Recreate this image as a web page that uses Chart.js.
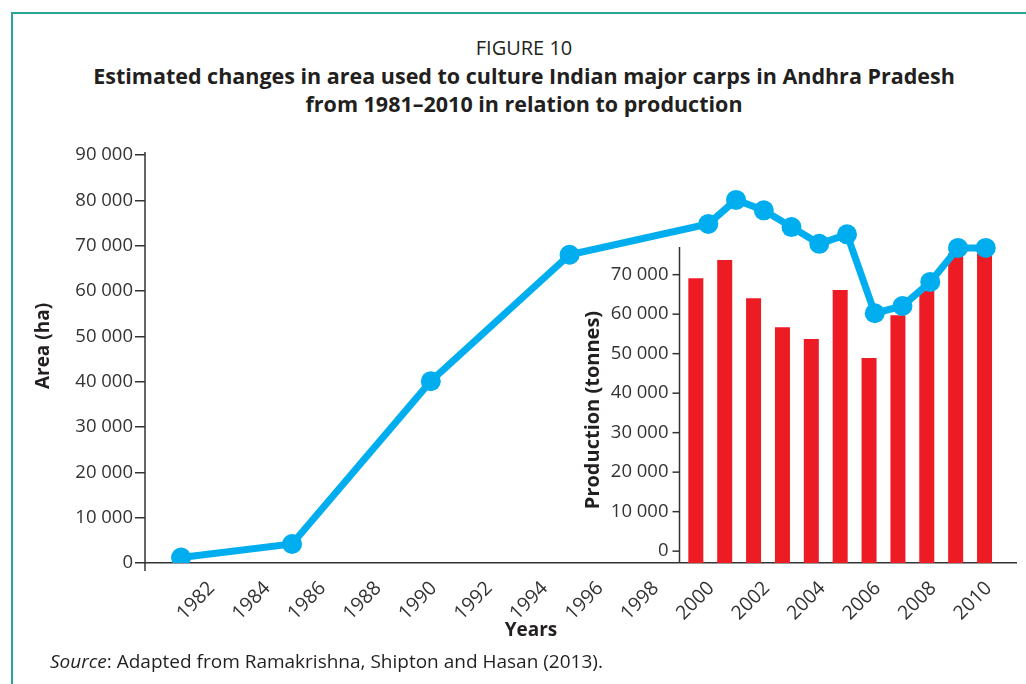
<!DOCTYPE html>
<html>
<head>
<meta charset="utf-8">
<title>Figure 10</title>
<script src="https://cdn.jsdelivr.net/npm/chart.js@4.4.0/dist/chart.umd.min.js"></script>
<style>
  body { margin: 0; background: #fff; font-family: "Open Sans", sans-serif; color: #231f20; }
  #page { position: relative; width: 1026px; height: 684px; overflow: hidden; }
  #frame { position: absolute; left: 11px; top: 12px; width: 1030px; height: 700px;
           border-top: 2px solid #2aa598; border-left: 2px solid #2aa598; }
  #chart-box { position: absolute; left: 0; top: 0; width: 1026px; height: 684px; }
  #heading { position: absolute; left: 0; top: 34px; width: 1048px; text-align: center; line-height: 28px; }
  #heading .fig { font-size: 20px; }
  #heading .name { font-size: 21.5px; font-weight: bold; }
  #years { position: absolute; left: 481px; top: 616px; width: 100px; text-align: center; font-size: 19px; font-weight: bold; }
  #source { position: absolute; left: 50px; top: 648px; font-size: 19px; white-space: nowrap; }
</style>
</head>
<body>
<div id="page">
  <div id="frame"></div>
  <div id="heading">
    <div class="fig">FIGURE 10</div>
    <div class="name">Estimated changes in area used to culture Indian major carps in Andhra Pradesh</div>
    <div class="name">from 1981–2010 in relation to production</div>
  </div>
  <div id="chart-box"><canvas id="chart"></canvas></div>
  <div id="years">Years</div>
  <div id="source"><i>Source</i>: Adapted from Ramakrishna, Shipton and Hasan (2013).</div>
</div>

<script>
// area under culture (ha), line
const areaYears = [1981, 1985, 1990, 1995, 2000, 2001, 2002, 2003, 2004, 2005, 2006, 2007, 2008, 2009, 2010]
const areaHa = [1200, 4200, 40100, 68000, 74800, 80100, 77800, 74100, 70400, 72500, 55100, 56700, 62000, 69500, 69500]

// production (tonnes), bars
const prodYears = [2000, 2001, 2002, 2003, 2004, 2005, 2006, 2007, 2008, 2009, 2010]
const prodTonnes = [69100, 73700, 64000, 56700, 53700, 66100, 48900, 59700, 66300, 75400, 75400]

// ticks
const yearTicks = [1982, 1984, 1986, 1988, 1990, 1992, 1994, 1996, 1998, 2000, 2002, 2004, 2006, 2008, 2010]
const areaTicks = [0, 10000, 20000, 30000, 40000, 50000, 60000, 70000, 80000, 90000]
const prodTicks = [0, 10000, 20000, 30000, 40000, 50000, 60000, 70000]

const prodMin = -3000
const prodAxisTop = 77000
const prodAxisYear = 1999.4

const axisColor = '#333'
const tickFont = '18.5px "Open Sans"'

const fmt = v => v.toLocaleString('en-US').replace(/,/g, ' ')

// the small production axis sits inside the plot, so draw it by hand
const innerAxis = {
    id: 'innerAxis',
    beforeDatasetsDraw(chart) {
        const {ctx, chartArea} = chart
        const xb = chart.scales.xb
        const yp = chart.scales.yp
        const ax = Math.round(xb.getPixelForValue(prodAxisYear)) + 0.5
        const top = yp.getPixelForValue(prodAxisTop)

        ctx.save()
        ctx.strokeStyle = axisColor
        ctx.lineWidth = 1.5

        // left axis runs a little past the x axis
        ctx.beginPath()
        ctx.moveTo(chartArea.left, chartArea.top - 3)
        ctx.lineTo(chartArea.left, chartArea.bottom + 8)
        ctx.stroke()

        ctx.beginPath()
        ctx.moveTo(ax, chartArea.bottom)
        ctx.lineTo(ax, top)
        ctx.stroke()

        ctx.fillStyle = axisColor
        ctx.font = tickFont
        ctx.textAlign = 'right'
        ctx.textBaseline = 'middle'
        prodTicks.forEach(v => {
            const py = yp.getPixelForValue(v)
            ctx.beginPath()
            ctx.moveTo(ax - 7, py)
            ctx.lineTo(ax, py)
            ctx.stroke()
            ctx.fillText(fmt(v), ax - 11, py)
        })

        // axis titles
        ctx.fillStyle = '#231f20'
        ctx.textAlign = 'center'
        ctx.font = 'bold 20px "Open Sans"'
        ctx.save()
        ctx.translate(ax - 86, (chartArea.bottom + top) / 2 + 5)
        ctx.rotate(-Math.PI / 2)
        ctx.fillText('Production (tonnes)', 0, 0)
        ctx.restore()

        ctx.font = 'bold 19px "Open Sans"'
        ctx.save()
        ctx.translate(44, 346)
        ctx.rotate(-Math.PI / 2)
        ctx.fillText('Area (ha)', 0, 0)
        ctx.restore()

        ctx.restore()
    }
}

new Chart(document.getElementById('chart'), {
    type: 'line',
    data: {
        datasets: [
            {
                type: 'line',
                label: 'Area (ha)',
                data: areaYears.map((yr, i) => ({x: yr, y: areaHa[i]})),
                xAxisID: 'x',
                yAxisID: 'y',
                borderColor: '#00aeef',
                borderWidth: 7,
                pointRadius: 10,
                pointBackgroundColor: '#00aeef',
                pointBorderWidth: 0,
                tension: 0
            },
            {
                type: 'bar',
                label: 'Production (tonnes)',
                data: prodYears.map((yr, i) => ({x: yr, y: prodTonnes[i]})),
                xAxisID: 'xb',
                yAxisID: 'yp',
                grouped: false,
                maxBarThickness: 15,
                backgroundColor: '#ed1c24',
                base: prodMin
            }
        ]
    },
    options: {
        responsive: true,
        maintainAspectRatio: false,
        animation: false,
        layout: {padding: {left: 0, right: 9, top: 155, bottom: 0}},
        plugins: {legend: {display: false}, tooltip: {enabled: false}},
        scales: {
            x: {
                type: 'linear',
                min: 1979.7,
                max: 2011.09,
                offset: false,
                afterBuildTicks: s => { s.ticks = yearTicks.map(v => ({value: v})) },
                afterFit: s => { s.height = 121 },
                grid: {display: false},
                border: {color: axisColor, width: 1.5},
                ticks: {
                    autoSkip: false,
                    minRotation: 45,
                    maxRotation: 45,
                    padding: 6,
                    labelOffset: 3,
                    color: axisColor,
                    font: {family: 'Open Sans', size: 19.5},
                    callback: v => String(v)
                }
            },
            xb: {
                type: 'linear',
                display: false,
                offset: false,
                grid: {offset: false},
                min: 1980.92,
                max: 2011.09
            },
            y: {
                type: 'linear',
                position: 'left',
                min: 0,
                max: 90000,
                afterBuildTicks: s => { s.ticks = areaTicks.map(v => ({value: v})) },
                afterFit: s => { s.width = 145 },
                grid: {drawOnChartArea: false, tickLength: 10, color: axisColor, lineWidth: 1.5},
                border: {display: false},
                ticks: {
                    padding: 2,
                    color: axisColor,
                    font: {family: 'Open Sans', size: 18.5},
                    callback: v => fmt(v)
                }
            },
            yp: {
                type: 'linear',
                display: false,
                min: prodMin,
                max: 100300
            }
        }
    },
    plugins: [innerAxis]
})
</script>
</body>
</html>
